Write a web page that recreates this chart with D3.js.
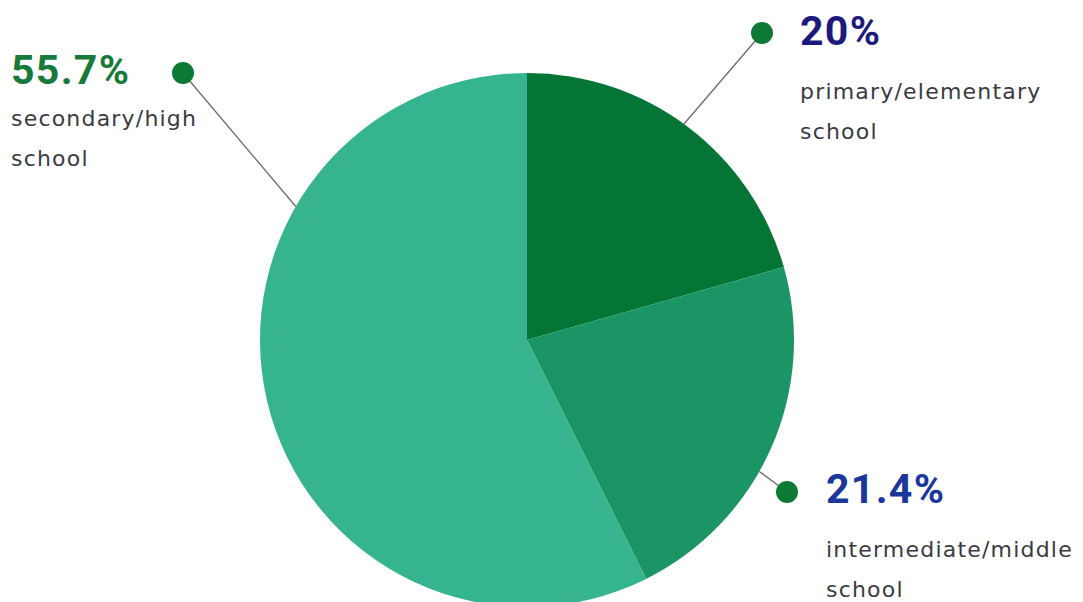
<!DOCTYPE html>
<html>
<head>
<meta charset="utf-8">
<script src="https://cdn.jsdelivr.net/npm/d3@7"></script>
<style>
  html, body { margin: 0; padding: 0; background: #ffffff; }
  svg { display: block; }
</style>
</head>
<body>
<svg id="chart" width="1083" height="602"></svg>
<script>
// School level shares (percent)
const categories = ["primary/elementary school", "intermediate/middle school", "secondary/high school"];
const values = [20, 21.4, 55.7];
const valueLabels = ["20%", "21.4%", "55.7%"];
const labelLines = [["primary/elementary", "school"], ["intermediate/middle", "school"], ["secondary/high", "school"]];

const sliceColors = ["#047535", "#1b9566", "#36b48f"];
const valueColors = ["#1c1a7c", "#1a379c", "#17793a"];

const svg = d3.select("#chart");
const cx = 527, cy = 340, radius = 267;

const pie = d3.pie().sort(null).value(d => d.value);
const arc = d3.arc().innerRadius(0).outerRadius(radius);

const data = categories.map((c, i) => ({ category: c, value: values[i], i }));
const arcs = pie(data);

const g = svg.append("g").attr("transform", `translate(${cx},${cy})`);

g.selectAll("path.slice")
  .data(arcs)
  .join("path")
  .attr("class", "slice")
  .attr("d", arc)
  .attr("fill", d => sliceColors[d.data.i]);

// Callout layout: dot position, angle where the leader meets the rim, text anchor point
const callouts = [
  { dot: [762, 33], rimAngle: 36, text: [800, 45], lines: [99, 139] },
  { dot: [787, 492], rimAngle: 119.5, text: [826, 503], lines: [557, 597] },
  { dot: [183, 73], rimAngle: 300, text: [11, 84], lines: [126, 166] }
];

const rimPoint = (deg) => {
  const a = deg * Math.PI / 180;
  return [cx + radius * Math.sin(a), cy - radius * Math.cos(a)];
};

callouts.forEach((c, i) => {
  const p = rimPoint(c.rimAngle);
  svg.append("line")
    .attr("x1", c.dot[0]).attr("y1", c.dot[1])
    .attr("x2", p[0]).attr("y2", p[1])
    .attr("stroke", "#6b6b6b")
    .attr("stroke-width", 1.3);
  svg.append("circle")
    .attr("cx", c.dot[0]).attr("cy", c.dot[1])
    .attr("r", 11)
    .attr("fill", "#0c7a35");
  svg.append("text")
    .attr("x", c.text[0]).attr("y", c.text[1])
    .attr("font-family", "Roboto, sans-serif")
    .attr("font-weight", 700)
    .attr("font-size", 41)
    .attr("letter-spacing", 1.3)
    .attr("fill", valueColors[i])
    .text(valueLabels[i]);
  labelLines[i].forEach((t, j) => {
    svg.append("text")
      .attr("x", c.text[0]).attr("y", c.lines[j])
      .attr("font-family", "'DejaVu Sans', sans-serif")
      .attr("font-size", 22)
      .attr("letter-spacing", 1.2)
      .attr("fill", "#3a3a42")
      .text(t);
  });
});
</script>
</body>
</html>
